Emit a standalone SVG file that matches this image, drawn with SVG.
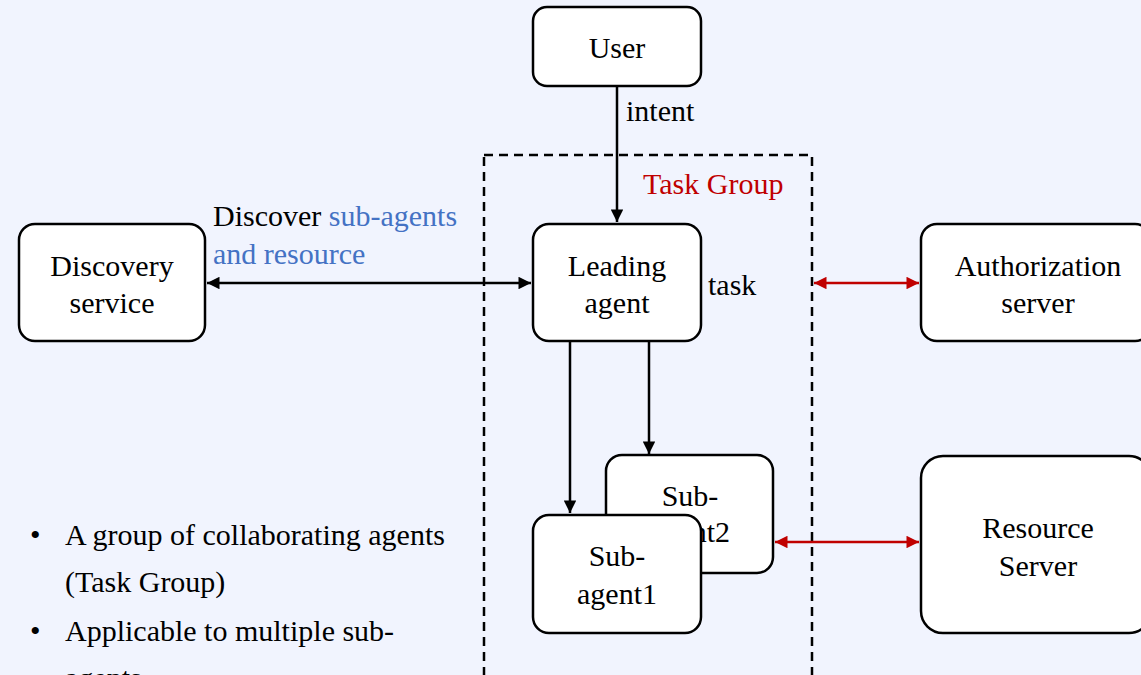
<svg xmlns="http://www.w3.org/2000/svg" width="1141" height="675" viewBox="0 0 1141 675">
<style>
.box{fill:#fff;stroke:#000;stroke-width:2.5}
.ln{stroke:#000;stroke-width:2.5;fill:none}
.rl{stroke:#c00000;stroke-width:2.5;fill:none}
</style>
<defs>
<marker id="ab" viewBox="0 0 10 10" refX="10" refY="5" markerWidth="6" markerHeight="5" markerUnits="strokeWidth" orient="auto-start-reverse"><path d="M0,0 L10,5 L0,10 z" fill="#000"/></marker>
<marker id="ar" viewBox="0 0 10 10" refX="10" refY="5" markerWidth="6" markerHeight="5" markerUnits="strokeWidth" orient="auto-start-reverse"><path d="M0,0 L10,5 L0,10 z" fill="#c00000"/></marker>
</defs>
<rect width="1141" height="675" fill="#f1f4fe"/>
<rect id="task-group" x="484" y="155" width="328" height="540" fill="none" stroke="#000" stroke-width="2.5" stroke-dasharray="9,6"/>
<text x="643" y="194" font-family="Times New Roman" font-size="30" fill="#c00000">Task Group</text>
<g id="connectors">
<line class="ln" x1="617" y1="87" x2="617" y2="222" marker-end="url(#ab)"/>
<line class="ln" x1="207" y1="283" x2="531" y2="283" marker-start="url(#ab)" marker-end="url(#ab)"/>
<line class="ln" x1="570" y1="342" x2="570" y2="513" marker-end="url(#ab)"/>
<line class="ln" x1="649" y1="342" x2="649" y2="454" marker-end="url(#ab)"/>
<line class="rl" x1="814" y1="283" x2="919" y2="283" marker-start="url(#ar)" marker-end="url(#ar)"/>
<line class="rl" x1="775" y1="542" x2="919" y2="542" marker-start="url(#ar)" marker-end="url(#ar)"/>
<text x="626" y="121" font-family="Times New Roman" font-size="30" fill="#000">intent</text>
<text x="708" y="295" font-family="Times New Roman" font-size="30" fill="#000">task</text>
<text x="213" y="226" font-family="Times New Roman" font-size="30" fill="#000">Discover <tspan fill="#4472c4">sub-agents</tspan></text>
<text x="213" y="264" font-family="Times New Roman" font-size="30" fill="#4472c4">and resource</text>
</g>
<g id="user"><rect class="box" x="533" y="7" width="168" height="79" rx="14"/><text x="617" y="58" text-anchor="middle" font-family="Times New Roman" font-size="30" fill="#000">User</text></g>
<g id="leading-agent"><rect class="box" x="533" y="224" width="168" height="117" rx="16"/><text x="617" y="276" text-anchor="middle" font-family="Times New Roman" font-size="30" fill="#000">Leading</text><text x="617" y="313" text-anchor="middle" font-family="Times New Roman" font-size="30" fill="#000">agent</text></g>
<g id="discovery-service"><rect class="box" x="19" y="224" width="186" height="117" rx="16"/><text x="112" y="276" text-anchor="middle" font-family="Times New Roman" font-size="30" fill="#000">Discovery</text><text x="112" y="313" text-anchor="middle" font-family="Times New Roman" font-size="30" fill="#000">service</text></g>
<g id="authorization-server"><rect class="box" x="921" y="224" width="230" height="117" rx="16"/><text x="1038" y="276" text-anchor="middle" font-family="Times New Roman" font-size="30" fill="#000">Authorization</text><text x="1038" y="313" text-anchor="middle" font-family="Times New Roman" font-size="30" fill="#000">server</text></g>
<g id="resource-server"><rect class="box" x="921" y="456" width="230" height="177" rx="22"/><text x="1038" y="538" text-anchor="middle" font-family="Times New Roman" font-size="30" fill="#000">Resource</text><text x="1038" y="576" text-anchor="middle" font-family="Times New Roman" font-size="30" fill="#000">Server</text></g>
<g id="sub-agent2"><rect class="box" x="606" y="455" width="167" height="118" rx="16"/><text x="690" y="506" text-anchor="middle" font-family="Times New Roman" font-size="30" fill="#000">Sub-</text><text x="690" y="542" text-anchor="middle" font-family="Times New Roman" font-size="30" fill="#000">agent2</text></g>
<g id="sub-agent1"><rect class="box" x="533" y="515" width="168" height="118" rx="16"/><text x="617" y="566" text-anchor="middle" font-family="Times New Roman" font-size="30" fill="#000">Sub-</text><text x="617" y="604" text-anchor="middle" font-family="Times New Roman" font-size="30" fill="#000">agent1</text></g>
<g id="notes">
<text x="30" y="545" font-family="Times New Roman" font-size="30" fill="#000">•</text><text x="65" y="545" font-family="Times New Roman" font-size="30" fill="#000">A group of collaborating agents</text>
<text x="65" y="592" font-family="Times New Roman" font-size="30" fill="#000">(Task Group)</text>
<text x="30" y="641" font-family="Times New Roman" font-size="30" fill="#000">•</text><text x="65" y="641" font-family="Times New Roman" font-size="30" fill="#000">Applicable to multiple sub-</text>
<text x="65" y="688" font-family="Times New Roman" font-size="30" fill="#000">agents</text>
</g>
</svg>
